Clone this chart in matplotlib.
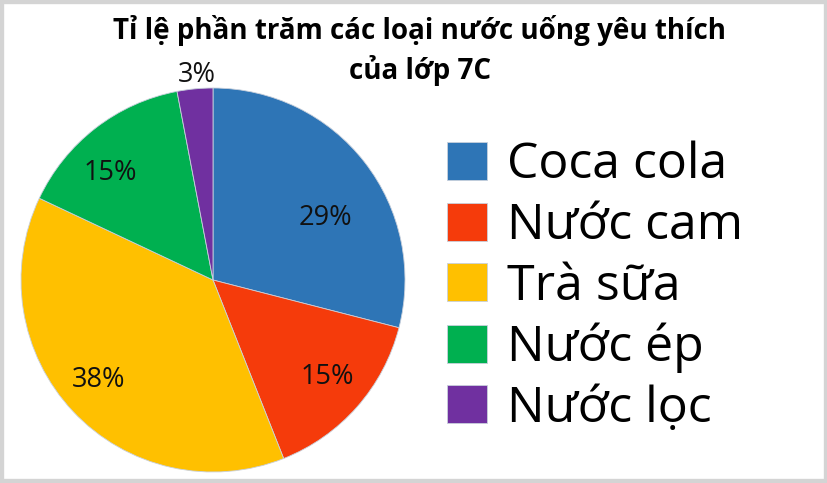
import numpy as np
import matplotlib.pyplot as plt
from matplotlib.patches import Rectangle

# Data
labels = ["Coca cola", "Nước cam", "Trà sữa", "Nước ép", "Nước lọc"]
values = [29, 15, 38, 15, 3]
colors = ["#2E75B6", "#F53B0B", "#FFC000", "#00B050", "#7030A0"]
title_lines = ["Tỉ lệ phần trăm các loại nước uống yêu thích", "của lớp 7C"]

# label placement (fraction of radius, angle shift in degrees)
LABEL_R = [0.67, 0.78, 0.79, 0.77, 1.07]
LABEL_SHIFT = [-9, 1, -2, 6, -1]

W, H = 828, 483
CX, CY, R = 213, 280, 192


def main():
    plt.rcParams["font.family"] = ["Open Sans", "DejaVu Sans"]
    fig = plt.figure(figsize=(W / 100, H / 100), dpi=100)

    # pie axes sized so the unit circle lands at (CX, CY) with radius R px
    ax = fig.add_axes([(CX - R) / W, (H - CY - R) / H, 2 * R / W, 2 * R / H])
    wedges, _ = ax.pie(
        values,
        colors=colors,
        startangle=90,
        counterclock=False,
        radius=1,
        wedgeprops=dict(edgecolor="#c8d0dc", linewidth=0.6),
    )
    ax.set_xlim(-1, 1)
    ax.set_ylim(-1, 1)
    ax.axis("off")

    total = sum(values)
    for w, v, rf, sh in zip(wedges, values, LABEL_R, LABEL_SHIFT):
        mid = np.deg2rad((w.theta1 + w.theta2) / 2 + sh)
        ax.text(rf * np.cos(mid), rf * np.sin(mid), f"{round(100 * v / total)}%",
                ha="center", va="center", fontsize=19.5, color="#111111")

    # title drawn as two centred lines
    for line, y in zip(title_lines, [30, 71]):
        fig.text(420 / W, 1 - y / H, line, ha="center", va="center",
                 fontsize=20, fontweight="bold")

    fig.legend(wedges, labels, loc="upper left",
               bbox_to_anchor=(422 / W, 1 - 116 / H),
               frameon=False, fontsize=36,
               handlelength=0.8, handleheight=0.8,
               handletextpad=0.4, labelspacing=0.22, borderpad=0)

    # light grey frame around the picture
    fig.patches.append(Rectangle((0, 0), 1, 1, transform=fig.transFigure,
                                 fill=False, edgecolor="#d4d4d4", linewidth=6))

    fig.savefig("out.png", dpi=100, facecolor="white")
    plt.close()


if __name__ == "__main__":
    main()
